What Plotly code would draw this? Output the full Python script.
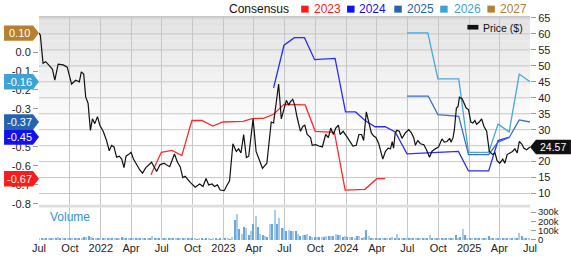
import plotly.graph_objects as go
import pandas as pd

# ---------------- data ----------------
price = [
    ("2021-07-01", 60.3), ("2021-07-05", 59.6), ("2021-07-13", 50.8), ("2021-07-21", 51.3), ("2021-08-02", 49.9),
    ("2021-08-10", 48.9), ("2021-08-17", 45.5), ("2021-08-27", 50.5), ("2021-09-11", 50.3), ("2021-09-23", 49.6),
    ("2021-10-06", 44.3), ("2021-10-18", 45.5), ("2021-10-29", 45.0), ("2021-11-04", 48.1), ("2021-11-11", 47.4),
    ("2021-11-17", 40.2), ("2021-11-24", 38.3), ("2021-12-01", 29.8), ("2021-12-07", 33.4), ("2021-12-14", 31.9),
    ("2021-12-22", 34.1), ("2021-12-29", 31.4), ("2022-01-08", 29.5), ("2022-01-18", 26.6), ("2022-01-26", 23.4),
    ("2022-02-02", 25.1), ("2022-02-09", 24.6), ("2022-02-17", 21.4), ("2022-02-25", 21.7), ("2022-03-04", 20.8),
    ("2022-03-11", 18.1), ("2022-03-17", 21.7), ("2022-03-24", 22.2), ("2022-04-01", 22.9), ("2022-04-08", 20.8),
    ("2022-04-18", 18.8), ("2022-04-27", 17.4), ("2022-05-05", 16.4), ("2022-05-15", 18.1), ("2022-06-01", 19.8),
    ("2022-06-08", 18.4), ("2022-06-16", 16.9), ("2022-06-26", 19.0), ("2022-07-08", 19.5), ("2022-07-15", 19.0),
    ("2022-07-25", 18.4), ("2022-08-08", 22.4), ("2022-08-17", 19.8), ("2022-08-25", 18.4), ("2022-09-02", 15.0),
    ("2022-09-09", 15.4), ("2022-09-24", 13.5), ("2022-10-09", 12.0), ("2022-10-22", 13.0), ("2022-11-01", 12.2),
    ("2022-11-10", 14.7), ("2022-11-18", 12.7), ("2022-11-28", 13.0), ("2022-12-05", 12.2), ("2022-12-14", 12.7),
    ("2022-12-22", 11.1), ("2023-01-03", 10.9), ("2023-01-11", 12.5), ("2023-01-19", 14.0), ("2023-01-29", 25.6),
    ("2023-02-08", 23.2), ("2023-02-15", 24.0), ("2023-02-22", 22.7), ("2023-03-02", 28.5), ("2023-03-10", 21.3),
    ("2023-03-17", 21.7), ("2023-03-22", 26.1), ("2023-03-30", 33.4), ("2023-04-08", 23.2), ("2023-04-15", 21.3),
    ("2023-04-27", 17.9), ("2023-05-10", 19.5), ("2023-05-23", 32.4), ("2023-05-30", 32.1), ("2023-06-04", 36.8),
    ("2023-06-14", 44.3), ("2023-06-22", 33.4), ("2023-06-29", 36.3), ("2023-07-07", 39.2), ("2023-07-14", 37.7),
    ("2023-07-19", 38.7), ("2023-07-26", 39.5), ("2023-08-01", 37.7), ("2023-08-08", 33.9), ("2023-08-18", 29.5),
    ("2023-08-25", 31.0), ("2023-08-31", 31.4), ("2023-09-07", 28.5), ("2023-09-17", 27.5), ("2023-09-22", 25.1),
    ("2023-10-02", 25.3), ("2023-10-12", 24.9), ("2023-10-22", 24.6), ("2023-11-01", 28.5), ("2023-11-09", 27.5),
    ("2023-11-16", 30.5), ("2023-11-24", 28.5), ("2023-12-01", 30.5), ("2023-12-09", 31.4), ("2023-12-14", 28.5),
    ("2023-12-23", 29.5), ("2024-01-05", 27.5), ("2024-01-15", 26.1), ("2024-01-21", 24.9), ("2024-01-31", 25.1),
    ("2024-02-08", 28.5), ("2024-02-16", 28.5), ("2024-02-22", 26.6), ("2024-03-01", 35.6), ("2024-03-08", 32.4),
    ("2024-03-16", 29.0), ("2024-03-23", 28.0), ("2024-03-30", 27.5), ("2024-04-07", 25.6), ("2024-04-19", 20.8),
    ("2024-04-27", 23.2), ("2024-05-05", 24.2), ("2024-05-12", 24.0), ("2024-05-17", 26.3), ("2024-05-21", 24.2),
    ("2024-05-26", 29.0), ("2024-05-31", 29.8), ("2024-06-07", 29.5), ("2024-06-15", 27.3), ("2024-06-25", 29.0),
    ("2024-07-05", 30.0), ("2024-07-13", 29.0), ("2024-07-20", 27.5), ("2024-07-25", 25.1), ("2024-08-01", 26.6),
    ("2024-08-09", 25.6), ("2024-08-19", 25.3), ("2024-08-27", 23.7), ("2024-09-05", 21.4), ("2024-09-12", 23.2),
    ("2024-09-22", 24.0), ("2024-10-02", 24.6), ("2024-10-12", 27.1), ("2024-10-19", 26.1), ("2024-10-27", 26.3),
    ("2024-11-04", 27.3), ("2024-11-08", 26.1), ("2024-11-14", 27.5), ("2024-11-18", 30.0), ("2024-11-24", 36.8),
    ("2024-11-29", 37.3), ("2024-12-03", 40.2), ("2024-12-11", 39.7), ("2024-12-18", 37.7), ("2024-12-23", 36.8),
    ("2024-12-30", 36.3), ("2025-01-06", 32.4), ("2025-01-12", 32.1), ("2025-01-18", 32.9), ("2025-01-23", 31.7),
    ("2025-01-31", 32.4), ("2025-02-07", 33.4), ("2025-02-14", 31.0), ("2025-02-22", 29.5), ("2025-03-02", 23.2),
    ("2025-03-12", 22.2), ("2025-03-19", 22.7), ("2025-03-25", 20.3), ("2025-04-02", 19.5), ("2025-04-11", 20.8),
    ("2025-04-17", 19.5), ("2025-04-24", 22.2), ("2025-05-02", 22.7), ("2025-05-10", 23.2), ("2025-05-17", 24.0),
    ("2025-05-24", 22.7), ("2025-05-30", 26.3), ("2025-06-06", 25.6), ("2025-06-13", 24.2), ("2025-06-21", 23.7),
    ("2025-07-01", 24.57),
]

eps2023 = [("2022-05-30", -0.647), ("2022-06-30", -0.529), ("2022-08-01", -0.519), ("2022-08-30", -0.546),
           ("2022-09-29", -0.361), ("2022-10-29", -0.361), ("2022-11-30", -0.390), ("2022-12-30", -0.369),
           ("2023-02-28", -0.366), ("2023-03-30", -0.350), ("2023-04-30", -0.350), ("2023-05-30", -0.328),
           ("2023-06-30", -0.276), ("2023-09-01", -0.279), ("2023-10-01", -0.418), ("2023-11-27", -0.423),
           ("2023-12-29", -0.728), ("2024-02-26", -0.724), ("2024-04-01", -0.668), ("2024-04-26", -0.668)]
eps2024 = [("2023-05-30", -0.189), ("2023-06-30", 0.036), ("2023-07-31", 0.076), ("2023-08-30", 0.076),
           ("2023-09-29", -0.040), ("2023-11-29", -0.033), ("2023-12-30", -0.315), ("2024-01-29", -0.316),
           ("2024-02-26", -0.361), ("2024-03-27", -0.394), ("2024-04-26", -0.394), ("2024-05-26", -0.421),
           ("2024-06-30", -0.537), ("2024-11-30", -0.524), ("2024-12-30", -0.627), ("2025-02-28", -0.627),
           ("2025-03-28", -0.467), ("2025-05-01", -0.448)]
eps2025 = [("2024-06-30", -0.232), ("2024-09-01", -0.232), ("2024-09-30", -0.330), ("2024-12-01", -0.339),
           ("2024-12-30", -0.541), ("2025-02-28", -0.541), ("2025-03-28", -0.475), ("2025-04-30", -0.451),
           ("2025-05-30", -0.358), ("2025-07-01", -0.369)]
eps2026 = [("2024-06-30", 0.101), ("2024-08-31", 0.101), ("2024-09-30", -0.141), ("2024-12-01", -0.141),
           ("2024-12-30", -0.529), ("2025-02-28", -0.529), ("2025-03-28", -0.380), ("2025-04-30", -0.421),
           ("2025-05-30", -0.116), ("2025-07-01", -0.157)]
eps2027 = [("2025-07-01", 0.10)]

# weekly volume in thousands of shares, starting week of 2021-07-02
volume_start = "2021-07-02"
volume_k = [
    12, 10, 14, 9, 11, 8, 13, 10, 27, 12,
    10, 9, 11, 8, 12, 10, 9, 14, 11, 30,
    28, 33, 31, 12, 10, 9, 11, 10, 8, 12,
    10, 9, 11, 10, 10, 23, 11, 9, 10, 8,
    11, 9, 10, 12, 9, 10, 11, 9, 40, 14,
    8, 9, 7, 10, 8, 9, 7, 8, 10, 8,
    7, 20, 8, 7, 9, 8, 6, 5, 7, 6,
    5, 6, 7, 5, 6, 10, 5, 6, 5, 7,
    6, 5, 23, 207, 270, 113, 57, 130, 123, 47,
    97, 163, 257, 130, 57, 47, 37, 30, 170, 163,
    320, 170, 230, 120, 120, 87, 103, 90, 87, 97,
    60, 40, 53, 47, 60, 37, 30, 30, 23, 30,
    23, 30, 37, 33, 43, 40, 57, 47, 47, 30,
    33, 23, 23, 23, 20, 33, 40, 20, 25, 107,
    40, 20, 13, 15, 12, 14, 13, 15, 12, 14,
    23, 18, 63, 20, 15, 12, 10, 13, 11, 12,
    10, 13, 12, 11, 10, 12, 47, 15, 12, 10,
    11, 13, 10, 12, 11, 10, 12, 53, 20, 30,
    113, 53, 15, 12, 10, 11, 12, 10, 13, 11,
    12, 33, 15, 12, 10, 11, 13, 12, 10, 11,
    12, 13, 12, 14, 73, 33, 15, 20, 18,
]

tick_dates = ["2021-07-01", "2021-10-01", "2022-01-01", "2022-04-01", "2022-07-01", "2022-10-01",
              "2023-01-01", "2023-04-01", "2023-07-01", "2023-10-01", "2024-01-01", "2024-04-01",
              "2024-07-01", "2024-10-01", "2025-01-01", "2025-04-01", "2025-07-01"]
tick_text = ["Jul", "Oct", "2022", "Apr", "Jul", "Oct", "2023", "Apr", "Jul", "Oct", "2024", "Apr",
             "Jul", "Oct", "2025", "Apr", "Jul"]

# ticks hidden under the value badges in the reference are left out
eps_ticks = [0.0, -0.1, -0.2, -0.3, -0.5, -0.6, -0.7, -0.8]
eps_tick_text = ["0.0", "-0.1", "-0.2", "-0.3", "-0.5", "-0.6", "-0.7", "-0.8"]
price_ticks = [10, 15, 20, 30, 35, 40, 45, 50, 55, 60, 65]
price_grid = [10, 15, 20, 25, 30, 35, 40, 45, 50, 55, 60, 65]
vol_ticks = [0, 100000, 200000, 300000]
vol_tick_text = ["0", "100k", "200k", "300k"]

series = [
    ("2023", eps2023, "#ff2a2a", "#ff1a1a"),
    ("2024", eps2024, "#2a2aff", "#1010f0"),
    ("2025", eps2025, "#3a6fc4", "#2563b0"),
    ("2026", eps2026, "#45a8da", "#3da3d5"),
    ("2027", eps2027, "#b5802f", "#b5802f"),
]

# ---------------- geometry helpers ----------------
W, H = 571, 266
ML, MR, MT, MB = 38, 41, 14, 12
PW, PH = W - ML - MR, H - MT - MB
FONT = "Liberation Sans, Arial, sans-serif"


def px(x):
    return (x - ML) / PW


def py(y):
    return (H - MB - y) / PH


fig = go.Figure()

# consensus lines (left axis)
for name, data, lc, _ in series:
    d = [p[0] for p in data]
    v = [p[1] for p in data]
    fig.add_trace(go.Scatter(x=d, y=v, xaxis="x", yaxis="y", mode="lines",
                             line=dict(color=lc, width=1.3), showlegend=False, hoverinfo="skip"))

# price line (right axis)
fig.add_trace(go.Scatter(x=[p[0] for p in price], y=[p[1] for p in price], xaxis="x", yaxis="y2",
                         mode="lines", line=dict(color="#111111", width=1.2),
                         showlegend=False, hoverinfo="skip"))

# volume bars
vol_dates = pd.date_range(volume_start, periods=len(volume_k), freq="7D")
bar_colors = ["#a9cdec" if i % 2 == 0 else "#6aa7da" for i in range(len(volume_k))]
fig.add_trace(go.Bar(x=vol_dates, y=[v * 1000 for v in volume_k], xaxis="x2", yaxis="y3",
                     marker=dict(color=bar_colors, line=dict(width=0)),
                     width=3.2 * 86400000, showlegend=False, hoverinfo="skip"))

shapes = []
annotations = []

# background gradient in upper panel
n_bands = 24
y_top, y_white = MT, 135
for i in range(n_bands):
    y0 = y_top + (y_white - y_top) * i / n_bands
    y1 = y_top + (y_white - y_top) * (i + 1) / n_bands
    c = int(226 + (255 - 226) * (i + 0.5) / n_bands)
    shapes.append(dict(type="rect", xref="paper", yref="paper", x0=0, x1=1, y0=py(y1), y1=py(y0),
                       fillcolor=f"rgb({c},{c},{c})", line=dict(width=0), layer="below"))

# horizontal grid at every price level (including the one behind the price badge)
for g in price_grid:
    shapes.append(dict(type="line", xref="paper", yref="y2", x0=0, x1=1, y0=g, y1=g,
                       line=dict(color="#c6c6c6", width=1), layer="below"))

# separator between panels
shapes.append(dict(type="rect", xref="paper", yref="paper", x0=0, x1=1, y0=py(219), y1=py(216),
                   fillcolor="#dedede", line=dict(width=0), layer="above"))

# left badges (last consensus values)
half_h = 8.3 / 204.0  # EPS units per half badge height
for name, data, _, bc in series:
    v = data[-1][1]
    x0, x1, xt = px(3), px(32), px(38)
    path = (f"M {x0},{v - half_h} L {x1},{v - half_h} L {xt},{v} L {x1},{v + half_h} "
            f"L {x0},{v + half_h} Z")
    shapes.append(dict(type="path", xref="paper", yref="y", path=path, fillcolor=bc,
                       line=dict(width=0), layer="above"))
    annotations.append(dict(x=px(18.5), y=v, xref="paper", yref="y", text=f"{v:.2f}",
                            showarrow=False, xanchor="center", yanchor="middle",
                            font=dict(family=FONT, size=11, color="white")))

# right badge (last price)
last_price = price[-1][1]
ph = 7.8 / 3.436
x0, x1, xt = px(571), px(536), px(530)
path = (f"M {x0},{last_price - ph} L {x1},{last_price - ph} L {xt},{last_price} "
        f"L {x1},{last_price + ph} L {x0},{last_price + ph} Z")
shapes.append(dict(type="path", xref="paper", yref="y2", path=path, fillcolor="#111111",
                   line=dict(width=0), layer="above"))
annotations.append(dict(x=px(553), y=last_price, xref="paper", yref="y2", text=f"{last_price:.2f}",
                        showarrow=False, xanchor="center", yanchor="middle",
                        font=dict(family=FONT, size=10.5, color="white")))

# top legend
annotations.append(dict(x=px(226), y=py(5.5), xref="paper", yref="paper", text="Consensus",
                        showarrow=False, xanchor="left", yanchor="middle",
                        font=dict(family=FONT, size=12, color="#111111")))
legend_pos = [(300.7, 311.5), (346.7, 356.5), (394, 405), (440, 452), (487.3, 497.5)]
for (name, _, _, bc), (sx, tx) in zip(series, legend_pos):
    shapes.append(dict(type="rect", xref="paper", yref="paper", x0=px(sx), x1=px(sx + 7.5),
                       y0=py(9.3), y1=py(1.8), fillcolor=bc, line=dict(width=0), layer="above"))
    annotations.append(dict(x=px(tx), y=py(5.5), xref="paper", yref="paper", text=name,
                            showarrow=False, xanchor="left", yanchor="middle",
                            font=dict(family=FONT, size=12, color=bc)))

# price legend inside plot
shapes.append(dict(type="rect", xref="paper", yref="paper", x0=px(467.3), x1=px(478.3),
                   y0=py(27.5), y1=py(22.5), fillcolor="#111111", line=dict(width=0), layer="above"))
annotations.append(dict(x=px(481), y=py(25.5), xref="paper", yref="paper", text="Price ($)",
                        showarrow=False, xanchor="left", yanchor="middle",
                        font=dict(family=FONT, size=10.5, color="#111111")))

# volume label
annotations.append(dict(x=px(47), y=py(229), xref="paper", yref="paper", text="Volume",
                        showarrow=False, xanchor="left", yanchor="middle",
                        font=dict(family=FONT, size=12, color="#3a8fd6")))

main_bottom = py(217)
vol_top = py(219)
grid_c = "#c6c6c6"
tick_font = dict(family=FONT, size=11, color="#222222")
vol_tick_font = dict(family=FONT, size=9.5, color="#222222")

fig.update_layout(
    width=W, height=H,
    margin=dict(l=ML, r=MR, t=MT, b=MB),
    paper_bgcolor="white", plot_bgcolor="white",
    showlegend=False, bargap=0,
    shapes=shapes, annotations=annotations,
    xaxis=dict(domain=[0, 1], anchor="y", type="date", range=["2021-07-01", "2025-07-01"],
               tickvals=tick_dates, ticktext=tick_text, showticklabels=False,
               showgrid=True, gridcolor=grid_c, gridwidth=1, ticks="", zeroline=False,
               showline=True, linecolor=grid_c, mirror=True),
    xaxis2=dict(domain=[0, 1], anchor="y3", type="date", matches="x",
                tickvals=tick_dates, ticktext=tick_text, tickfont=tick_font,
                showgrid=True, gridcolor=grid_c, gridwidth=1, ticks="", zeroline=False,
                showline=False),
    yaxis=dict(domain=[main_bottom, 1], anchor="x", side="left", range=[-0.81, 0.185],
               tickvals=eps_ticks, ticktext=eps_tick_text, tickfont=tick_font,
               ticks="outside", ticklen=5, tickcolor="#999999",
               showgrid=False, zeroline=False, showline=False),
    yaxis2=dict(overlaying="y", anchor="x", side="right", range=[6.22, 65.3],
                tickvals=price_ticks, tickfont=tick_font,
                ticks="outside", ticklen=5, tickcolor="#999999",
                showgrid=False, zeroline=False, showline=False),
    yaxis3=dict(domain=[0, vol_top], anchor="x2", side="right", range=[0, 350000],
                tickvals=vol_ticks, ticktext=vol_tick_text, tickfont=vol_tick_font,
                ticks="outside", ticklen=5, tickcolor="#999999",
                showgrid=False, zeroline=False, showline=False),
)

fig.write_html("out.html")
